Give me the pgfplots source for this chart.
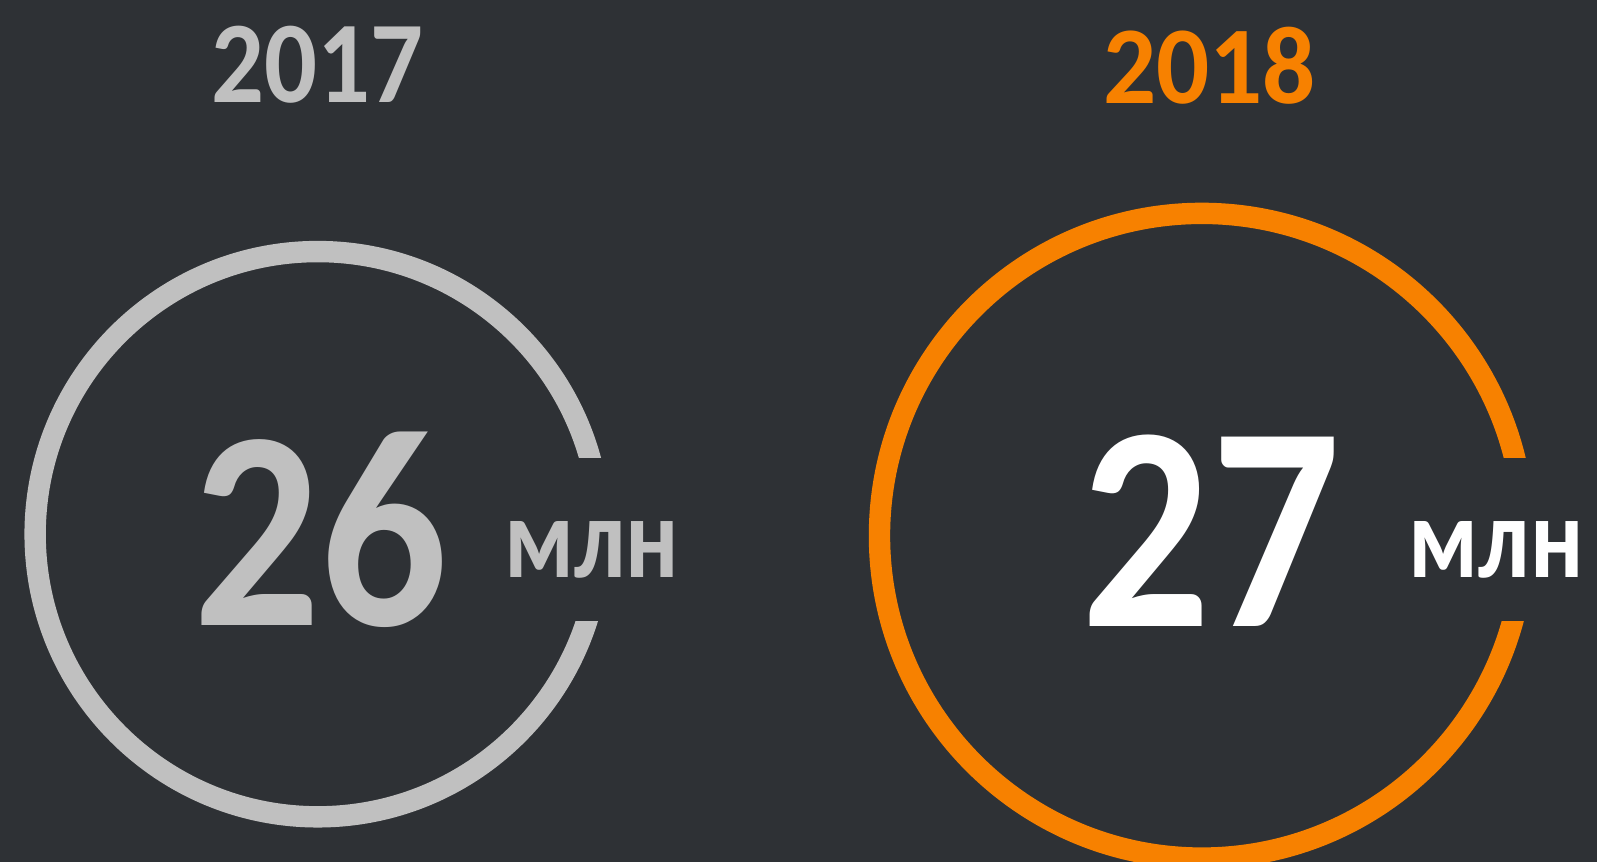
\documentclass[border=0pt]{standalone}
\usepackage{fontspec}
\setmainfont{Carlito}
\usepackage{graphicx}
\usepackage{pgfplots}
\pgfplotsset{compat=1.18}
\definecolor{bgcol}{RGB}{46,49,53}
\definecolor{ringgray}{RGB}{192,192,192}
\definecolor{ringorange}{RGB}{247,129,0}

\begin{document}
\begin{tikzpicture}
\begin{axis}[
    width=156.8mm, height=84.6mm, scale only axis,
    xmin=0, xmax=1568, ymin=0, ymax=846, y dir=reverse,
    axis lines=none, xtick=\empty, ytick=\empty,
    axis background/.style={fill=bgcol},
    clip=true,
]
% rings, gap cut flat on the right
\draw[ringgray, line width=2.1mm] (axis cs:312,524.5) circle[radius=27.75mm];
\fill[bgcol] (axis cs:530,450) rectangle (axis cs:640,610);
\draw[ringorange, line width=2.1mm] (axis cs:1180,526) circle[radius=31.65mm];
\fill[bgcol] (axis cs:1420,450) rectangle (axis cs:1540,610);

% values
\addplot[only marks, mark size=0pt, mark options={draw=none, fill=none},
    point meta=explicit symbolic,
    nodes near coords={\resizebox{25mm}{19mm}{\bfseries\pgfplotspointmeta}},
    nodes near coords align=center,
    every node near coord/.append style={inner sep=0pt, text=ringgray}]
    coordinates {(315,520)[26]};
\addplot[only marks, mark size=0pt, mark options={draw=none, fill=none},
    point meta=explicit symbolic,
    nodes near coords={\resizebox{25.4mm}{18.8mm}{\bfseries\pgfplotspointmeta}},
    nodes near coords align=center,
    every node near coord/.append style={inner sep=0pt, text=white}]
    coordinates {(1189,521)[27]};

% units
\node[inner sep=0pt, text=ringgray] at (axis cs:581,539.5) {\resizebox{17.2mm}{5.5mm}{\bfseries млн}};
\node[inner sep=0pt, text=white] at (axis cs:1469,539.5) {\resizebox{17.2mm}{5.5mm}{\bfseries млн}};

% years
\node[inner sep=0pt, text=ringgray] at (axis cs:311.5,64) {\resizebox{20.8mm}{7.5mm}{\bfseries 2017}};
\node[inner sep=0pt, text=ringorange] at (axis cs:1187.5,64.5) {\resizebox{20.9mm}{7.5mm}{\bfseries 2018}};
\end{axis}
\end{tikzpicture}
\end{document}
